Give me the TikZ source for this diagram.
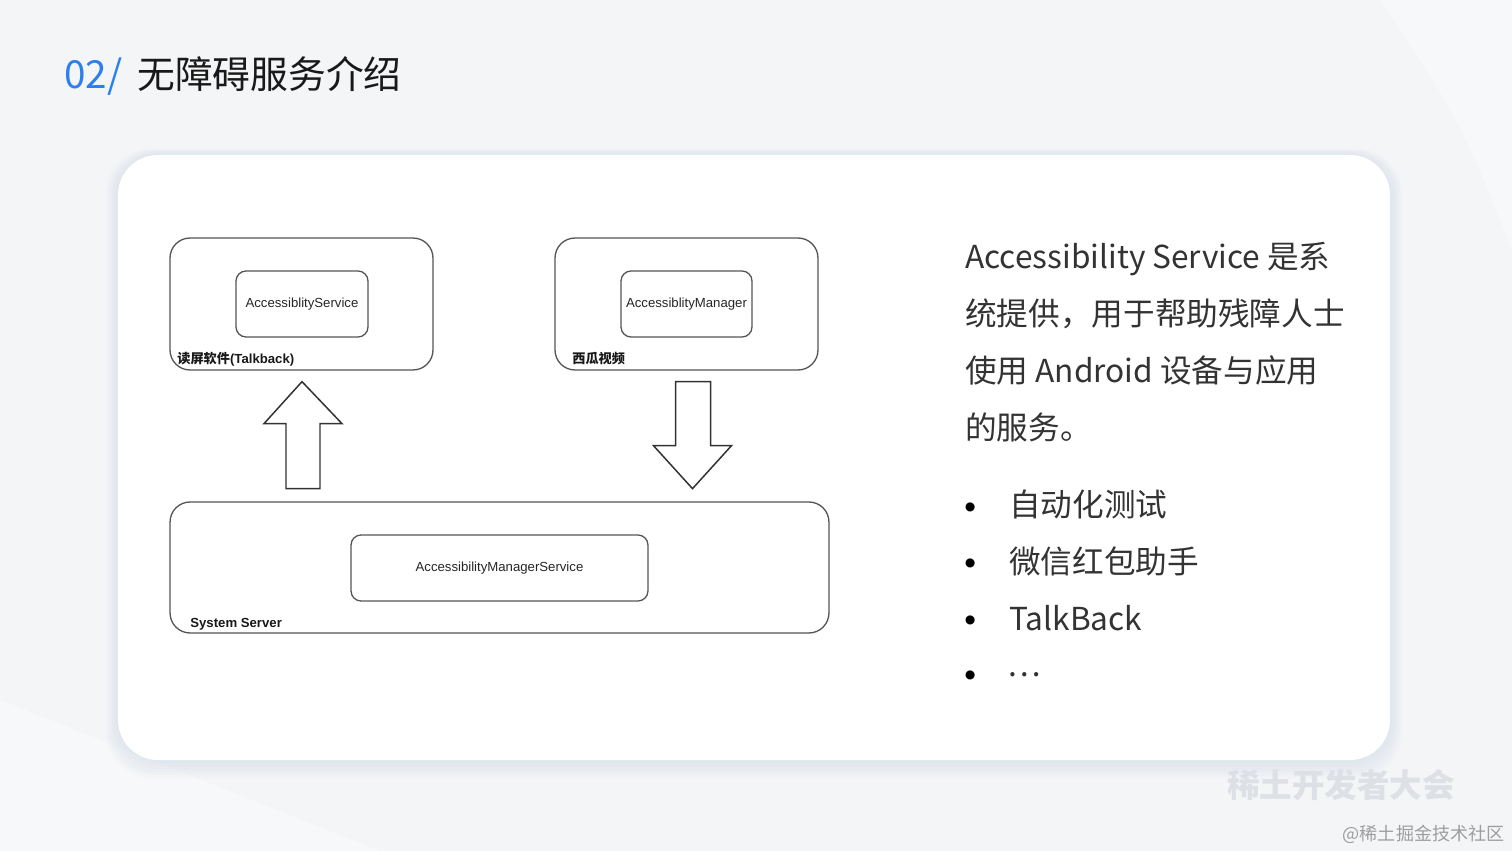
\documentclass[tikz,border=0pt]{standalone}
\usepackage{fontspec}
\setmainfont{Noto Sans CJK SC}
\newfontfamily\arialfont{Liberation Sans}
\usepackage{tikz}
\usetikzlibrary{positioning, calc}
\definecolor{SlideBg}{RGB}{244, 245, 247}
\definecolor{TitleBlue}{RGB}{45, 128, 236}
\definecolor{BodyText}{RGB}{51, 51, 51}
\definecolor{BoxLine}{RGB}{85, 85, 85}
\definecolor{ShadowTint}{RGB}{196, 210, 228}
\definecolor{MarkGray}{RGB}{221, 224, 229}
\definecolor{SiteGray}{RGB}{158, 158, 158}

\tikzset{
  outerbox/.style={draw=BoxLine, line width=0.75pt, rounded corners=0.4cm,
    minimum height=2.64cm, inner sep=0pt},
  innerbox/.style={draw=BoxLine, line width=0.75pt, rounded corners=0.2cm,
    minimum height=1.32cm, inner sep=0pt, text=black!85,
    font=\arialfont\fontsize{7.5}{9}\selectfont},
  boxlabel/.style={anchor=base west, inner sep=0pt, text=black!90,
    font=\fontsize{7.5}{9}\selectfont\bfseries},
  blockarr/.style={draw=black!80, line width=0.85pt, line join=miter, fill=white},
  bodyline/.style={anchor=base west, inner sep=0pt, text=BodyText,
    font=\fontsize{18}{22}\selectfont},
  bulletdot/.style={anchor=base west, inner sep=0pt, text=black,
    font=\arialfont\fontsize{19}{19}\selectfont},
}

\begin{document}
\begin{tikzpicture}[x=0.02cm, y=-0.02cm]
  \useasboundingbox (0,0) rectangle (1512,851);
  % slide background
  \fill[SlideBg] (0,0) rectangle (1512,851);
  \fill[white, opacity=0.35] (1120,0) -- (1512,0) -- (1512,250) .. controls (1460,120) .. (1380,0) -- cycle;
  \fill[white, opacity=0.35] (0,700) -- (380,851) -- (0,851) -- cycle;

  % card with soft shadow
  \foreach \k in {1,...,6}
    \fill[ShadowTint, opacity=0.07, rounded corners=0.9cm]
      ($(118,155)+(-2*\k,-1*\k)$) rectangle ($(1390,760)+(2*\k,3*\k)$);
  \fill[white, rounded corners=0.8cm] (118,155) rectangle (1390,760);

  % title
  \node[anchor=base west, inner sep=0pt, text=TitleBlue,
    font=\fontsize{22}{26}\selectfont] (titleNum) at (64,89) {02/};
  \node[anchor=base west, inner sep=0pt, text=black!90,
    font=\fontsize{21.5}{26}\selectfont] (titleText) at (137,89) {无障碍服务介绍};

  % diagram boxes
  \node[outerbox, minimum width=5.26cm] (talkback) at (301.5,304) {};
  \node[innerbox, minimum width=2.64cm] (talkSvc) at (302,304) {AccessiblityService};
  \node[boxlabel] (talkLabel) at (177,363) {读屏软件{\arialfont(Talkback)}};

  \node[outerbox, minimum width=5.26cm] (xigua) at (686.5,304) {};
  \node[innerbox, minimum width=2.62cm] (xiguaMgr) at (686.5,304) {AccessiblityManager};
  \node[boxlabel] (xiguaLabel) at (572,363) {西瓜视频};

  \node[outerbox, minimum width=13.18cm, minimum height=2.62cm] (sysServer) at (499.5,567.5) {};
  \node[innerbox, minimum width=5.94cm] (ams) at (499.5,568) {AccessibilityManagerService};
  \node[boxlabel, font=\arialfont\fontsize{7.5}{9}\selectfont\bfseries] (sysLabel) at (190,627) {System Server};

  % block arrows
  \coordinate (upTip) at ($(talkback.south)+(0.5,11)$);
  \draw[blockarr] (upTip) -- ++(40,42) -- ++(-22,0) -- ++(0,65) -- ++(-34,0)
    -- ++(0,-65) -- ++(-22,0) -- cycle;
  \coordinate (downTip) at ($(xigua.south)+(6,118)$);
  \draw[blockarr] (downTip) -- ++(39,-43) -- ++(-21,0) -- ++(0,-64) -- ++(-35,0)
    -- ++(0,64) -- ++(-22,0) -- cycle;

  % right text
  \node[bodyline] (intro1) at (965,269) {Accessibility Service 是系};
  \node[bodyline] (intro2) at (965,326) {统提供，用于帮助残障人士};
  \node[bodyline] (intro3) at (965,382) {使用 Android 设备与应用};
  \node[bodyline] (intro4) at (965,439) {的服务。};

  \node[bulletdot] (dot1) at (964,518) {•};
  \node[bodyline] (item1) at (1009,516) {自动化测试};
  \node[bulletdot] (dot2) at (964,574) {•};
  \node[bodyline] (item2) at (1009,573) {微信红包助手};
  \node[bulletdot] (dot3) at (964,631) {•};
  \node[bodyline] (item3) at (1009,630) {TalkBack};
  \node[bulletdot] (dot4) at (964,686) {•};
  \node[bodyline] (item4) at (1007,676) {…};

  % watermarks
  \node[anchor=base west, inner sep=0pt, text=MarkGray,
    font=\fontsize{18.5}{22}\selectfont\bfseries] (eventMark) at (1227,797) {稀土开发者大会};
  \node[anchor=base east, inner sep=0pt, text=SiteGray,
    font=\fontsize{10.3}{12}\selectfont] (siteMark) at (1505,840) {@稀土掘金技术社区};
\end{tikzpicture}
\end{document}
